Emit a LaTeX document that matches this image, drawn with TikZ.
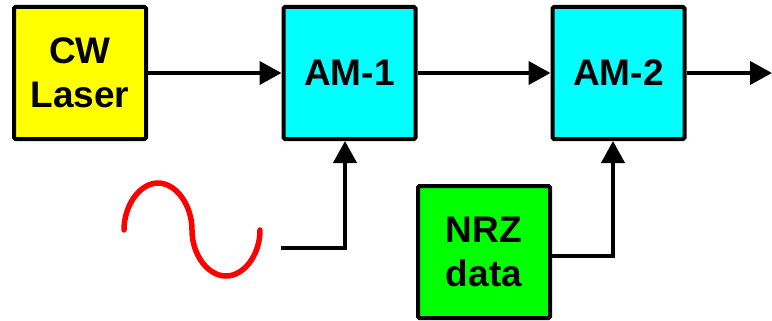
\documentclass[tikz,border=0pt]{standalone}
\usepackage{fontspec}
\setmainfont{Liberation Sans}
\usepackage{xcolor}
\usetikzlibrary{arrows.meta,positioning}
\definecolor{laseryellow}{RGB}{255,255,0}
\definecolor{modcyan}{RGB}{0,255,255}
\definecolor{datagreen}{RGB}{0,255,0}
\definecolor{sinered}{RGB}{255,0,0}

\begin{document}
\begin{tikzpicture}[
  x=1pt, y=-1pt,
  block/.style={draw, line width=4pt, rounded corners=1.5pt, align=center,
    minimum width=132pt, minimum height=132pt, inner sep=0pt,
    font=\fontsize{37}{44}\selectfont\bfseries},
  link/.style={line width=4pt, -{Triangle[length=22pt, width=23pt]}},
  sine/.style={draw=sinered, line width=5.5pt, line cap=round}
]
\useasboundingbox (0,0) rectangle (772,321);
\node[block, fill=laseryellow] (laser) at (80,73) {CW\\Laser};
\node[block, fill=modcyan] (am1) at (349.5,73) {AM-1};
\node[block, fill=modcyan] (am2) at (618.5,73) {AM-2};
\node[block, fill=datagreen] (nrz) at (484,252) {NRZ\\data};
\coordinate (rf) at (281,248);
\coordinate (out) at (772,73);
% RF drive
\draw[sine] (124,230) .. controls (124,205) and (140,183) .. (158,183)
  .. controls (176,183) and (192,205) .. (192,230)
  .. controls (192,255) and (208,276) .. (226,276)
  .. controls (244,276) and (260,255) .. (260,230);
\draw[link] (laser) -- (am1);
\draw[link] (am1) -- (am2);
\draw[link] (am2) -- (out);
\draw[link] (rf) -| ([xshift=-4.5pt]am1.south);
\draw[link] ([yshift=-4pt]nrz.east) -| ([xshift=-5.5pt]am2.south);
\end{tikzpicture}
\end{document}
